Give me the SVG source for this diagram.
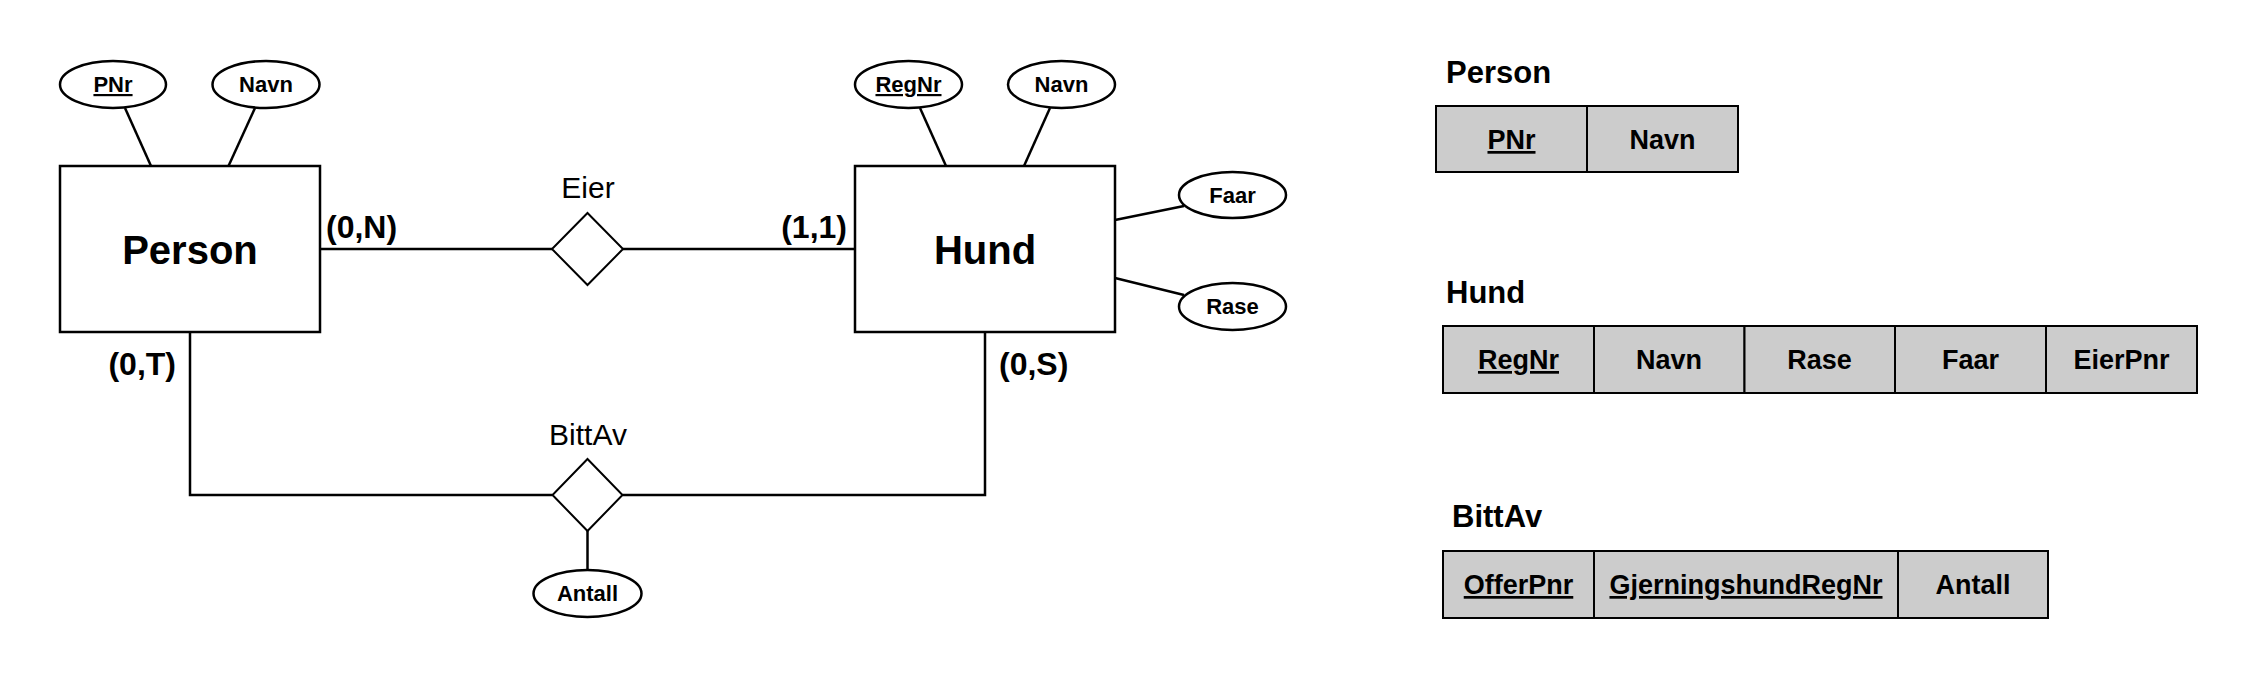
<svg xmlns="http://www.w3.org/2000/svg" width="2248" height="674" viewBox="0 0 2248 674">
<style>
text{font-family:"Liberation Sans",Arial,Helvetica,sans-serif;fill:#000}
.ent{fill:#fff;stroke:#000;stroke-width:2.5}
.rel{fill:#fff;stroke:#000;stroke-width:2}
.att{fill:#fff;stroke:#000;stroke-width:2.5}
.ln{fill:none;stroke:#000;stroke-width:2.5}
.big{font-size:40px;font-weight:bold;text-anchor:middle}
.at{font-size:22px;font-weight:bold;text-anchor:middle}
.card{font-size:32px;font-weight:bold}
.rl{font-size:30px;text-anchor:middle}
.tt{font-size:31px;font-weight:bold}
.cell{fill:#cccccc;stroke:#000;stroke-width:2}
.ct{font-size:27px;font-weight:bold;text-anchor:middle}
.u{text-decoration:underline}
</style>
<g id="connectors">
<line class="ln" x1="125" y1="108" x2="151" y2="166"/>
<line class="ln" x1="255" y1="108" x2="228.5" y2="166"/>
<line class="ln" x1="920" y1="108" x2="946" y2="166"/>
<line class="ln" x1="1050" y1="108" x2="1024" y2="166"/>
<line class="ln" x1="1115" y1="220" x2="1184" y2="206"/>
<line class="ln" x1="1115" y1="278" x2="1184" y2="295"/>
<line class="ln" x1="320" y1="249" x2="552" y2="249"/>
<line class="ln" x1="623" y1="249" x2="855" y2="249"/>
<polyline class="ln" points="190,332 190,495 552.5,495"/>
<polyline class="ln" points="622.5,495 985,495 985,332"/>
<line class="ln" x1="587.5" y1="531" x2="587.5" y2="570"/>
</g>
<g id="person">
<rect class="ent" x="60" y="166" width="260" height="166"/>
<text class="big" x="190" y="264">Person</text>
</g>
<g id="person-pnr">
<ellipse class="att" cx="113" cy="84.5" rx="53" ry="23.5"/>
<text class="at u" x="113" y="92">PNr</text>
</g>
<g id="person-navn">
<ellipse class="att" cx="266" cy="84.5" rx="53.5" ry="23.5"/>
<text class="at" x="266" y="92">Navn</text>
</g>
<g id="hund">
<rect class="ent" x="855" y="166" width="260" height="166"/>
<text class="big" x="985" y="264">Hund</text>
</g>
<g id="hund-regnr">
<ellipse class="att" cx="908.5" cy="84.5" rx="53.5" ry="23.5"/>
<text class="at u" x="908.5" y="92">RegNr</text>
</g>
<g id="hund-navn">
<ellipse class="att" cx="1061.5" cy="84.5" rx="53.5" ry="23.5"/>
<text class="at" x="1061.5" y="92">Navn</text>
</g>
<g id="hund-faar">
<ellipse class="att" cx="1232.5" cy="195" rx="53.5" ry="23"/>
<text class="at" x="1232.5" y="202.5">Faar</text>
</g>
<g id="hund-rase">
<ellipse class="att" cx="1232.5" cy="306.5" rx="53.5" ry="23.5"/>
<text class="at" x="1232.5" y="314">Rase</text>
</g>
<g id="eier">
<polygon class="rel" points="587.5,213 623,249 587.5,285 552,249"/>
<text class="rl" x="588" y="198">Eier</text>
</g>
<g id="bittav">
<polygon class="rel" points="587.5,459 622.5,495 587.5,531 552.5,495"/>
<text class="rl" x="588" y="445">BittAv</text>
</g>
<g id="bittav-antall">
<ellipse class="att" cx="587.5" cy="593.5" rx="54" ry="23.5"/>
<text class="at" x="587.5" y="601">Antall</text>
</g>
<g id="cardinalities">
<text class="card" x="326" y="238">(0,N)</text>
<text class="card" x="847" y="238" text-anchor="end">(1,1)</text>
<text class="card" x="176" y="375" text-anchor="end">(0,T)</text>
<text class="card" x="999" y="375">(0,S)</text>
</g>
<g id="table-person">
<text class="tt" x="1446" y="83">Person</text>
<rect class="cell" x="1436" y="106" width="151" height="66"/>
<rect class="cell" x="1587" y="106" width="151" height="66"/>
<text class="ct u" x="1511.5" y="149">PNr</text>
<text class="ct" x="1662.5" y="149">Navn</text>
</g>
<g id="table-hund">
<text class="tt" x="1446" y="303">Hund</text>
<rect class="cell" x="1443" y="326" width="151" height="67"/>
<rect class="cell" x="1594" y="326" width="150.5" height="67"/>
<rect class="cell" x="1744.5" y="326" width="150.5" height="67"/>
<rect class="cell" x="1895" y="326" width="151" height="67"/>
<rect class="cell" x="2046" y="326" width="151" height="67"/>
<text class="ct u" x="1518.5" y="369">RegNr</text>
<text class="ct" x="1669" y="369">Navn</text>
<text class="ct" x="1819.5" y="369">Rase</text>
<text class="ct" x="1970.5" y="369">Faar</text>
<text class="ct" x="2121.5" y="369">EierPnr</text>
</g>
<g id="table-bittav">
<text class="tt" x="1452" y="527">BittAv</text>
<rect class="cell" x="1443" y="551" width="151" height="67"/>
<rect class="cell" x="1594" y="551" width="304" height="67"/>
<rect class="cell" x="1898" y="551" width="150" height="67"/>
<text class="ct u" x="1518.5" y="594">OfferPnr</text>
<text class="ct u" x="1746" y="594">GjerningshundRegNr</text>
<text class="ct" x="1973" y="594">Antall</text>
</g>
</svg>
